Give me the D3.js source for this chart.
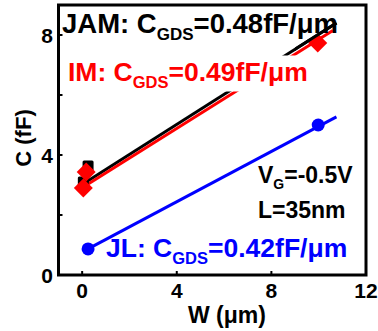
<!DOCTYPE html>
<html><head><meta charset="utf-8">
<script src="https://cdn.jsdelivr.net/npm/d3@7/dist/d3.min.js"></script>
<style>body{margin:0;background:#fff}svg{display:block}text{font-family:"Liberation Sans",Arial,sans-serif;font-weight:bold}</style>
</head><body><svg id="c" width="378" height="331"></svg>
<script>
const xTicks = [0, 4, 8, 12];
const yTicks = [0, 2, 4, 6, 8];
const yTickLabels = ["0", "", "4", "", "8"];
// JAM (black squares)
const jamW = [0.05, 0.25];
const jamC = [3.1, 3.63];
const jamLineW = [0.1, 10.75];
const jamLineC = [3.07, 8.4];
// IM (red diamonds)
const imW = [0.05, 0.17, 9.96];
const imC = [2.9, 3.43, 7.73];
const imLineW = [0.12, 10.6];
const imLineC = [2.97, 8.15];
// JL (blue circles)
const jlW = [0.25, 9.98];
const jlC = [0.87, 5.0];
const jlLineW = [0.25, 10.75];
const jlLineC = [0.87, 5.27];

const svg = d3.select("#c");
const x = d3.scaleLinear().domain([-1, 12]).range([58.5, 366]);
const y = d3.scaleLinear().domain([0, 9]).range([275, 5]);

// ticks (inward)
const g = svg.append("g");
g.selectAll(".yt").data(yTicks).join("line")
  .attr("x1", x(-1)).attr("x2", x(-1) + 4)
  .attr("y1", d => y(d)).attr("y2", d => y(d))
  .attr("stroke", "#000").attr("stroke-width", 2);
g.selectAll(".xt").data(xTicks.slice(0, 3)).join("line")
  .attr("x1", d => x(d)).attr("x2", d => x(d))
  .attr("y1", y(0)).attr("y2", y(0) - 4)
  .attr("stroke", "#000").attr("stroke-width", 2);

// tick labels
svg.selectAll(".xl").data(xTicks).join("text")
  .attr("x", d => x(d)).attr("y", 298).attr("text-anchor", "middle")
  .attr("font-size", 21).attr("fill", "#000").text(d => d);
svg.selectAll(".yl").data(yTicks).join("text")
  .attr("x", 53).attr("y", d => y(d) + 7.5).attr("text-anchor", "end")
  .attr("font-size", 21).attr("fill", "#000").text((d, i) => yTickLabels[i]);

// axis titles
svg.append("text").attr("x", 227).attr("y", 323).attr("text-anchor", "middle")
  .attr("font-size", 23).text("W (μm)");
svg.append("text").attr("transform", "translate(31,138) rotate(-90)")
  .attr("text-anchor", "middle").attr("font-size", 22).text("C (fF)");

// lines
const line = d3.line().x(d => x(d[0])).y(d => y(d[1]));
function drawLine(ws, cs, color) {
  svg.append("path").datum(d3.zip(ws, cs)).attr("d", line)
    .attr("fill", "none").attr("stroke", color).attr("stroke-width", 3);
}
drawLine(jamLineW, jamLineC, "#000");
drawLine(imLineW, imLineC, "#ff0000");
drawLine(jlLineW, jlLineC, "#0000ff");

// markers
svg.selectAll(".sq").data(d3.zip(jamW, jamC)).join("rect")
  .attr("x", d => x(d[0]) - 5.5).attr("y", d => y(d[1]) - 5.5)
  .attr("width", 11).attr("height", 11).attr("rx", 1.5).attr("fill", "#000");
svg.selectAll(".dm").data(d3.zip(imW, imC)).join("path")
  .attr("d", d3.symbol().type(d3.symbolSquare).size(180))
  .attr("transform", d => `translate(${x(d[0])},${y(d[1])}) rotate(45)`)
  .attr("fill", "#ff0000");
svg.selectAll(".ci").data(d3.zip(jlW, jlC)).join("circle")
  .attr("cx", d => x(d[0])).attr("cy", d => y(d[1])).attr("r", 6.5)
  .attr("fill", "#0000ff");
// black line over the top-right diamond
svg.append("path").datum(d3.zip(jamLineW, jamLineC).map((d, i) => d))
  .attr("d", line).attr("fill", "none").attr("stroke", "#000").attr("stroke-width", 3)
  .attr("clip-path", "url(#clipTR)");
svg.append("clipPath").attr("id", "clipTR").append("rect")
  .attr("x", x(9)).attr("y", y(9)).attr("width", x(12) - x(9)).attr("height", y(7) - y(9));

// annotations
function label(xp, yp, pre, post, color, fs, ss, box) {
  const t = svg.append("text").attr("x", xp).attr("y", yp).attr("fill", color).attr("font-size", fs);
  t.append("tspan").text(pre);
  t.append("tspan").attr("font-size", ss).attr("dy", 7).text("GDS");
  t.append("tspan").attr("dy", -7).text(post);
  if (box) {
    const b = t.node().getBBox();
    svg.insert("rect", () => t.node())
      .attr("x", b.x - 3).attr("y", b.y - 1).attr("width", b.width + 6).attr("height", b.height + 2)
      .attr("fill", "#fff");
  }
}
label(62, 33, "JAM: C", "=0.48fF/μm", "#000", 27.5, 17, false);
label(68, 80.5, "IM: C", "=0.49fF/μm", "#ff0000", 26.5, 16.5, true);
label(106, 257, "JL: C", "=0.42fF/μm", "#0000ff", 26.5, 16.5, false);

const vg = svg.append("text").attr("x", 258).attr("y", 183).attr("font-size", 23).attr("fill", "#000");
vg.append("tspan").text("V");
vg.append("tspan").attr("font-size", 14).attr("dy", 6).text("G");
vg.append("tspan").attr("dy", -6).text("=-0.5V");
svg.append("text").attr("x", 258).attr("y", 218).attr("font-size", 23).text("L=35nm");

// frame
svg.append("rect").attr("x", x(-1)).attr("y", y(9)).attr("width", x(12) - x(-1))
  .attr("height", y(0) - y(9)).attr("fill", "none").attr("stroke", "#000").attr("stroke-width", 3);
</script></body></html>
